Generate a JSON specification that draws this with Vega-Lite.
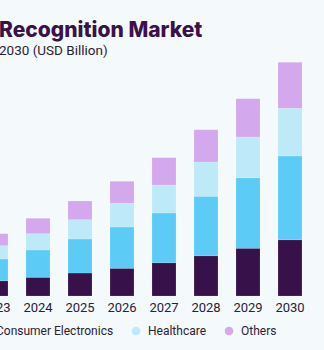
{
  "$schema": "https://vega.github.io/schema/vega-lite/v6.json",
  "autosize": "none",
  "width": 324,
  "height": 236,
  "padding": {"top": 60, "left": 0, "right": 0, "bottom": 54},
  "background": "#F4F9FC",
  "title": {
    "text": "Recognition Market",
    "subtitle": "2030 (USD Billion)",
    "anchor": "start",
    "frame": "group",
    "offset": 3,
    "font": "Inter",
    "fontSize": 21,
    "fontWeight": 800,
    "color": "#3A1249",
    "subtitleFont": "Roboto",
    "subtitleFontSize": 13.5,
    "subtitleColor": "#2B2233",
    "subtitlePadding": 3,
    "dx": -1
  },
  "data": {
    "values": [
      {"year": "2023", "segment": "Automotive", "value": 1.53},
      {"year": "2023", "segment": "Consumer Electronics", "value": 2.17},
      {"year": "2023", "segment": "Healthcare", "value": 1.33},
      {"year": "2023", "segment": "Others", "value": 1.20},
      {"year": "2024", "segment": "Automotive", "value": 1.87},
      {"year": "2024", "segment": "Consumer Electronics", "value": 2.73},
      {"year": "2024", "segment": "Healthcare", "value": 1.63},
      {"year": "2024", "segment": "Others", "value": 1.54},
      {"year": "2025", "segment": "Automotive", "value": 2.30},
      {"year": "2025", "segment": "Consumer Electronics", "value": 3.40},
      {"year": "2025", "segment": "Healthcare", "value": 1.93},
      {"year": "2025", "segment": "Others", "value": 1.87},
      {"year": "2026", "segment": "Automotive", "value": 2.77},
      {"year": "2026", "segment": "Consumer Electronics", "value": 4.13},
      {"year": "2026", "segment": "Healthcare", "value": 2.37},
      {"year": "2026", "segment": "Others", "value": 2.20},
      {"year": "2027", "segment": "Automotive", "value": 3.33},
      {"year": "2027", "segment": "Consumer Electronics", "value": 4.97},
      {"year": "2027", "segment": "Healthcare", "value": 2.80},
      {"year": "2027", "segment": "Others", "value": 2.73},
      {"year": "2028", "segment": "Automotive", "value": 4.03},
      {"year": "2028", "segment": "Consumer Electronics", "value": 5.94},
      {"year": "2028", "segment": "Healthcare", "value": 3.43},
      {"year": "2028", "segment": "Others", "value": 3.23},
      {"year": "2029", "segment": "Automotive", "value": 4.77},
      {"year": "2029", "segment": "Consumer Electronics", "value": 7.06},
      {"year": "2029", "segment": "Healthcare", "value": 4.07},
      {"year": "2029", "segment": "Others", "value": 3.83},
      {"year": "2030", "segment": "Automotive", "value": 5.63},
      {"year": "2030", "segment": "Consumer Electronics", "value": 8.37},
      {"year": "2030", "segment": "Healthcare", "value": 4.77},
      {"year": "2030", "segment": "Others", "value": 4.60}
    ]
  },
  "mark": {"type": "bar", "clip": true, "stroke": "#FFFFFF", "strokeOpacity": 0.25, "strokeWidth": 0.6},
  "encoding": {
    "x": {
      "field": "year",
      "type": "ordinal",
      "scale": {"range": [-25, 311], "paddingInner": 0.4286, "paddingOuter": 0.2143},
      "axis": {
        "title": null,
        "domain": false,
        "ticks": false,
        "labelAngle": 0,
        "labelFont": "Roboto",
        "labelFontSize": 13,
        "labelColor": "#2B2233",
        "labelPadding": 5,
        "labelOverlap": false
      }
    },
    "y": {
      "field": "value",
      "type": "quantitative",
      "stack": "zero",
      "scale": {"domain": [0, 23.6], "nice": false},
      "axis": null
    },
    "order": {"field": "segment", "type": "ordinal", "sort": "ascending"},
    "color": {
      "field": "segment",
      "type": "nominal",
      "scale": {
        "domain": ["Automotive", "Consumer Electronics", "Healthcare", "Others"],
        "range": ["#37114A", "#5CCBF5", "#BEE9F9", "#D4A8EC"]
      },
      "legend": {
        "title": null,
        "orient": "none",
        "direction": "horizontal",
        "legendX": -118,
        "legendY": 265,
        "symbolType": "circle",
        "symbolSize": 75,
        "symbolStrokeWidth": 0,
        "labelFont": "Roboto",
        "labelFontSize": 12,
        "labelColor": "#2B2233",
        "labelOffset": 6,
        "columnPadding": 16,
        "labelLimit": 300
      }
    }
  },
  "config": {"view": {"stroke": null}}
}
